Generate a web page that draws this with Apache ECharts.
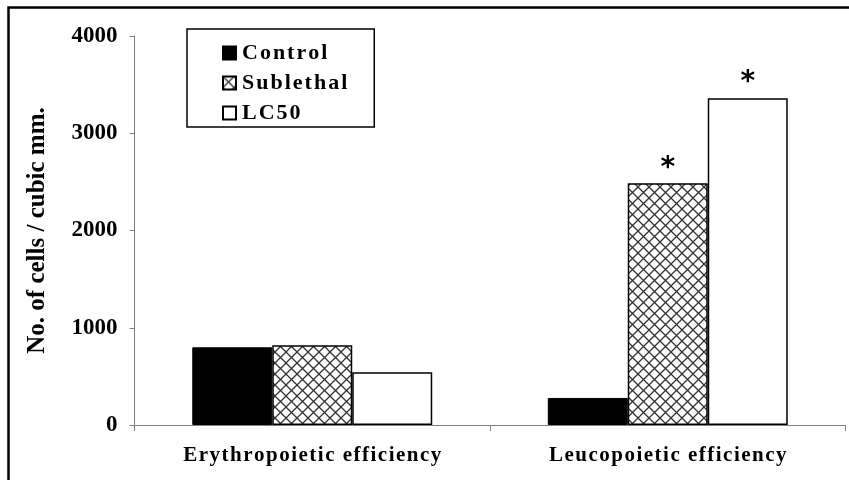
<!DOCTYPE html>
<html>
<head>
<meta charset="utf-8">
<script src="https://cdn.jsdelivr.net/npm/echarts@6/dist/echarts.min.js"></script>
<style>
  html, body { margin: 0; padding: 0; background: #fff; }
  #chart { width: 849px; height: 480px; }
</style>
</head>
<body>
<div id="chart"></div>
<script>
// data
const categories = ["Erythropoietic efficiency", "Leucopoietic efficiency"];
const seriesNames = ["Control", "Sublethal", "LC50"];
const controlVals = [799, 278];
const sublethalVals = [820, 2485];
const lc50Vals = [542, 3361];
// significance stars above bars
const sublethalMarks = ["", "*"];
const lc50Marks = ["", "*"];
const yTicks = { min: 0, max: 4000, step: 1000 };

const serif = "'Liberation Serif', 'Times New Roman', serif";

// the original has loosely tracked text, fake it with per-char padding
function spaced(str) {
  return str.split("").map((ch) => "{c|" + ch + "}").join("");
}

// cross hatch fill for the sublethal bars
function hatch() {
  const p = 11;
  const c = document.createElement("canvas");
  c.width = p;
  c.height = p;
  const ctx = c.getContext("2d");
  ctx.fillStyle = "#fff";
  ctx.fillRect(0, 0, p, p);
  ctx.strokeStyle = "#333";
  ctx.lineWidth = 1.3;
  for (let o = -p; o <= p; o += p) {
    ctx.beginPath();
    ctx.moveTo(o, 0);
    ctx.lineTo(o + p, p);
    ctx.moveTo(o + p, 0);
    ctx.lineTo(o, p);
    ctx.stroke();
  }
  return { image: c, repeat: "repeat" };
}

const starLabel = (marks) => ({
  show: true,
  position: "top",
  distance: 1,
  formatter: (p) => marks[p.dataIndex],
  fontFamily: "'DejaVu Sans', sans-serif",
  fontSize: 28,
  fontWeight: "bold",
  color: "#000",
});

const chart = echarts.init(document.getElementById("chart"));
chart.setOption({
  animation: false,
  backgroundColor: "#fff",
  graphic: [
    {
      type: "rect",
      shape: { x: 8.5, y: 7.5, width: 900, height: 600 },
      style: { fill: "none", stroke: "#000", lineWidth: 2.5 },
      silent: true,
    },
  ],
  grid: { left: 134.5, right: 3.5, top: 36, bottom: 55 },
  legend: {
    orient: "vertical",
    left: 187,
    top: 29,
    padding: [13, 27, 3, 35],
    itemGap: 8,
    itemWidth: 13,
    itemHeight: 13,
    borderColor: "#000",
    borderWidth: 1.5,
    icon: "rect",
    formatter: (name) => spaced(name),
    textStyle: {
      fontFamily: serif, fontSize: 22, fontWeight: "bold", color: "#000",
      rich: { c: { fontFamily: serif, fontSize: 22, fontWeight: "bold", color: "#000", padding: [0, 1.0, 0, 1.0] } },
    },
    data: seriesNames,
  },
  xAxis: {
    type: "category",
    data: categories,
    axisLine: { lineStyle: { color: "#808080", width: 1 } },
    axisTick: { show: true, length: 6, lineStyle: { color: "#808080" } },
    axisLabel: {
      interval: 0,
      margin: 20,
      formatter: (v) => spaced(v),
      fontFamily: serif, fontSize: 21, fontWeight: "bold", color: "#000",
      rich: { c: { fontFamily: serif, fontSize: 21, fontWeight: "bold", color: "#000", padding: [0, 0.75, 0, 0.75] } },
    },
  },
  yAxis: {
    type: "value",
    min: yTicks.min,
    max: yTicks.max,
    interval: yTicks.step,
    name: "No. of cells / cubic mm.",
    nameLocation: "middle",
    nameGap: 84,
    nameTextStyle: { fontFamily: serif, fontSize: 25, fontWeight: "bold", color: "#000" },
    axisLine: { show: true, lineStyle: { color: "#808080", width: 1 } },
    axisTick: { show: true, length: 5, lineStyle: { color: "#808080" } },
    axisLabel: {
      margin: 17,
      formatter: (v) => String(v),
      fontFamily: serif, fontSize: 23, fontWeight: "bold", color: "#000",
    },
    splitLine: { show: false },
  },
  series: [
    {
      name: seriesNames[0],
      type: "bar",
      data: controlVals,
      barGap: "0%",
      barCategoryGap: "32.5%",
      itemStyle: { color: "#000", borderColor: "#000", borderWidth: 1 },
    },
    {
      name: seriesNames[1],
      type: "bar",
      data: sublethalVals,
      itemStyle: { color: hatch(), borderColor: "#000", borderWidth: 1.5 },
      label: starLabel(sublethalMarks),
    },
    {
      name: seriesNames[2],
      type: "bar",
      data: lc50Vals,
      itemStyle: { color: "#fff", borderColor: "#000", borderWidth: 1.5 },
      label: starLabel(lc50Marks),
    },
  ],
});
</script>
</body>
</html>
